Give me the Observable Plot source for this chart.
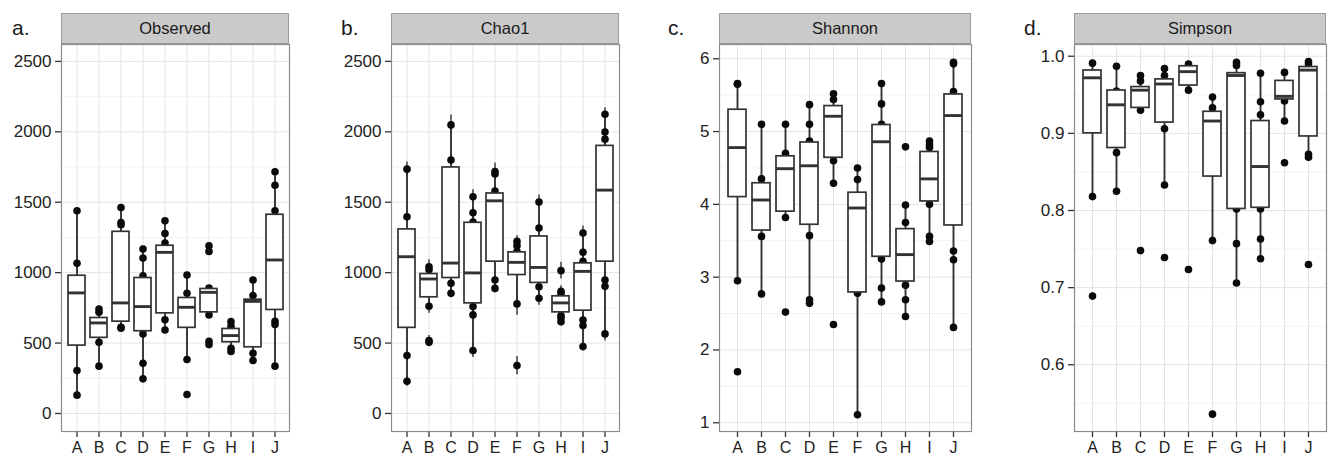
<!DOCTYPE html>
<html><head><meta charset="utf-8">
<script src="https://cdn.jsdelivr.net/npm/d3@7"></script>
<script src="https://cdn.jsdelivr.net/npm/@observablehq/plot@0.6"></script>
<style>
body{margin:0;background:#fff;font-family:"Liberation Sans",Arial,sans-serif;}
#wrap{position:relative;width:1329px;height:457px;overflow:hidden;background:#fff;}
.panel{position:absolute;top:0;}
.strip{position:absolute;top:13px;height:31px;background:#cacaca;border:1px solid #9a9a9a;box-sizing:border-box;text-align:center;line-height:29px;font-size:16.5px;color:#1a1a1a;}
.lab{position:absolute;top:17px;font-size:21px;line-height:1;color:#1a1a1a;}
</style></head><body><div id="wrap"></div>
<script>
const categories = ["A","B","C","D","E","F","G","H","I","J"];
const panelTitles = ["Observed","Chao1","Shannon","Simpson"];
const panelLetters = ["a.","b.","c.","d."];

// Observed
const obsQ1  = [482, 537, 652, 584, 711, 608, 718, 506, 470, 735];
const obsMed = [856, 643, 785, 759, 1144, 754, 860, 553, 796, 1090];
const obsQ3  = [978, 678, 1290, 962, 1191, 820, 884, 600, 808, 1411];
const obsLo  = [130, 336, 605, 246, 593, 383, 700, 440, 376, 336];
const obsHi  = [1440, 742, 1463, 1168, 1368, 983, 890, 652, 948, 1716];
const obsPts = [
  [1440, 1066, 305, 130],
  [742, 718, 506, 336],
  [1463, 1356, 1340, 612, 605],
  [1168, 1104, 978, 565, 357, 246],
  [1368, 1278, 1210, 666, 593],
  [983, 853, 383, 135],
  [1191, 1151, 890, 700, 513, 489],
  [652, 620, 463, 440],
  [948, 837, 428, 376],
  [1716, 1621, 1439, 654, 631, 336]
];

// Chao1 (value, standard error)
const chaoQ1  = [608, 825, 962, 782, 1078, 983, 927, 718, 730, 1078];
const chaoMed = [1113, 955, 1068, 998, 1510, 1073, 1037, 785, 1009, 1586];
const chaoQ3  = [1307, 990, 1747, 1354, 1562, 1144, 1257, 832, 1066, 1900];
const chaoLo  = [229, 761, 853, 447, 888, 778, 818, 652, 475, 565];
const chaoHi  = [1735, 1042, 2049, 1539, 1718, 1222, 1501, 867, 1281, 2125];
const chaoPts = [
  [[1735,50],[1397,40],[411,40],[229,35]],
  [[1042,50],[1020,40],[761,50],[518,35],[505,30]],
  [[2049,70],[1799,40],[924,30],[853,30]],
  [[1539,50],[1425,40],[1360,30],[759,40],[700,40],[447,50]],
  [[1718,60],[1700,40],[1580,40],[948,30],[888,30]],
  [[1222,40],[1191,40],[1150,30],[778,80],[340,65]],
  [[1501,50],[1317,40],[900,40],[818,50]],
  [[1014,60],[867,40],[850,30],[695,30],[680,30],[652,30]],
  [[1281,50],[1144,40],[1080,30],[664,40],[624,40],[475,30]],
  [[2125,45],[1999,40],[1948,40],[948,40],[903,40],[565,50]]
];

// Shannon
const shQ1  = [4.10, 3.64, 3.90, 3.72, 4.64, 2.79, 3.28, 2.94, 4.04, 3.71];
const shMed = [4.78, 4.06, 4.49, 4.53, 5.21, 3.95, 4.86, 3.31, 4.35, 5.22];
const shQ3  = [5.30, 4.29, 4.66, 4.85, 5.35, 4.16, 5.09, 3.66, 4.72, 5.51];
const shLo  = [2.95, 2.77, 3.82, 2.64, 4.29, 1.11, 2.66, 2.46, 3.49, 2.31];
const shHi  = [5.66, 5.10, 5.10, 5.37, 5.52, 4.50, 5.66, 3.99, 4.87, 5.95];
const shPts = [
  [5.66, 5.65, 2.95, 1.70],
  [5.10, 4.35, 3.56, 2.77],
  [5.10, 4.70, 3.82, 2.52],
  [5.37, 5.10, 4.87, 3.57, 2.69, 2.64],
  [5.52, 5.44, 4.60, 4.29, 2.35],
  [4.50, 4.34, 2.78, 1.11],
  [5.66, 5.38, 5.10, 3.25, 2.85, 2.66],
  [4.79, 3.99, 3.75, 2.89, 2.69, 2.46],
  [4.87, 4.82, 4.78, 4.00, 3.56, 3.49],
  [5.95, 5.93, 5.55, 3.36, 3.24, 2.31]
];

// Simpson
const siQ1  = [0.900, 0.881, 0.933, 0.914, 0.962, 0.844, 0.802, 0.8035, 0.944, 0.896];
const siMed = [0.972, 0.937, 0.956, 0.964, 0.980, 0.916, 0.975, 0.857, 0.948, 0.982];
const siQ3  = [0.9815, 0.9556, 0.960, 0.970, 0.987, 0.928, 0.978, 0.916, 0.968, 0.986];
const siLo  = [0.818, 0.825, 0.930, 0.833, 0.956, 0.761, 0.706, 0.7375, 0.916, 0.869];
const siHi  = [0.991, 0.987, 0.975, 0.984, 0.990, 0.947, 0.992, 0.978, 0.979, 0.993];
const siPts = [
  [0.991, 0.818, 0.689],
  [0.987, 0.955, 0.875, 0.825],
  [0.975, 0.968, 0.930, 0.748],
  [0.984, 0.975, 0.906, 0.833, 0.739],
  [0.990, 0.956, 0.7236],
  [0.947, 0.933, 0.761, 0.536],
  [0.992, 0.988, 0.802, 0.757, 0.706],
  [0.978, 0.941, 0.924, 0.802, 0.763, 0.7375],
  [0.979, 0.942, 0.916, 0.862],
  [0.993, 0.990, 0.873, 0.869, 0.730]
];

const countTicks = [0, 500, 1000, 1500, 2000, 2500];
const countMinor = [250, 750, 1250, 1750, 2250];
const shTicks = [1, 2, 3, 4, 5, 6];
const shMinor = [1.5, 2.5, 3.5, 4.5, 5.5];
const siTicks = [0.6, 0.7, 0.8, 0.9, 1.0];
const siMinor = [0.55, 0.65, 0.75, 0.85, 0.95];

const panels = [
  {left:0, width:300, ml:61, mr:11, domain:[-128, 2620], ticks:countTicks, minor:countMinor, fmt:d=>String(d),
   q1:obsQ1, med:obsMed, q3:obsQ3, lo:obsLo, hi:obsHi, pts:obsPts, err:false, labX:12},
  {left:330, width:300, ml:61, mr:11, domain:[-128, 2620], ticks:countTicks, minor:countMinor, fmt:d=>String(d),
   q1:chaoQ1, med:chaoMed, q3:chaoQ3, lo:chaoLo, hi:chaoHi, pts:chaoPts, err:true, labX:341},
  {left:660, width:320, ml:59, mr:9, domain:[0.88, 6.196], ticks:shTicks, minor:shMinor, fmt:d=>String(d),
   q1:shQ1, med:shMed, q3:shQ3, lo:shLo, hi:shHi, pts:shPts, err:false, labX:668},
  {left:994, width:335, ml:80, mr:3, domain:[0.5135, 1.0152], ticks:siTicks, minor:siMinor, fmt:d3.format(".1f"),
   q1:siQ1, med:siMed, q3:siQ3, lo:siLo, hi:siHi, pts:siPts, err:false, labX:1024}
];

const H = 457, MT = 44, MB = 26;
const wrap = document.getElementById("wrap");
const ink = "#333333";

panels.forEach((p, k) => {
  const stats = categories.map((c, i) => ({cat:c, q1:p.q1[i], med:p.med[i], q3:p.q3[i], lo:p.lo[i], hi:p.hi[i]}));
  const pts = categories.flatMap((c, i) => p.pts[i].map(v => Array.isArray(v) ? {cat:c, v:v[0], se:v[1]} : {cat:c, v:v, se:0}));
  const marks = [
    Plot.ruleY(p.minor, {stroke:"#f3f3f3", strokeWidth:1}),
    Plot.ruleY(p.ticks, {stroke:"#e4e4e4", strokeWidth:1}),
    Plot.ruleX(categories, {x:d=>d, stroke:"#e4e4e4", strokeWidth:1}),
    Plot.axisY({ticks:p.ticks, tickFormat:p.fmt, tickSize:6, tickPadding:4, label:null, stroke:ink, fill:"#222", strokeWidth:1.3}),
    Plot.axisX({tickSize:6, tickPadding:4, fontSize:16, label:null, stroke:ink, fill:"#222", strokeWidth:1.3}),
  ];
  if (p.err) marks.push(Plot.ruleX(pts, {x:"cat", y1:d=>d.v-d.se, y2:d=>d.v+d.se, stroke:ink, strokeWidth:1.4}));
  marks.push(
    Plot.ruleX(stats, {x:"cat", y1:"lo", y2:"hi", stroke:ink, strokeWidth:1.9}),
    Plot.dot(pts, {x:"cat", y:"v", r:3.8, fill:"#0a0a0a", stroke:"none"}),
    Plot.barY(stats, {x:"cat", y1:"q1", y2:"q3", fill:"white", stroke:ink, strokeWidth:1.7}),
    Plot.tickY(stats, {x:"cat", y:"med", stroke:ink, strokeWidth:2.9}),
    Plot.frame({stroke:"#8c8c8c", strokeWidth:1.2})
  );
  const chart = Plot.plot({
    width:p.width, height:H, marginLeft:p.ml, marginRight:p.mr, marginTop:MT, marginBottom:MB,
    style:{fontSize:"17px", fontFamily:"'Liberation Sans', Arial, sans-serif", background:"transparent", overflow:"visible"},
    x:{type:"band", domain:categories, paddingInner:0.25, paddingOuter:0.225, label:null},
    y:{domain:p.domain, label:null},
    marks
  });
  const div = document.createElement("div");
  div.className = "panel";
  div.style.left = p.left + "px";
  div.appendChild(chart);
  wrap.appendChild(div);

  const strip = document.createElement("div");
  strip.className = "strip";
  strip.style.left = (p.left + p.ml) + "px";
  strip.style.width = (p.width - p.ml - p.mr) + "px";
  strip.textContent = panelTitles[k];
  wrap.appendChild(strip);

  const lab = document.createElement("div");
  lab.className = "lab";
  lab.style.left = p.labX + "px";
  lab.textContent = panelLetters[k];
  wrap.appendChild(lab);
});
</script>
</body></html>
